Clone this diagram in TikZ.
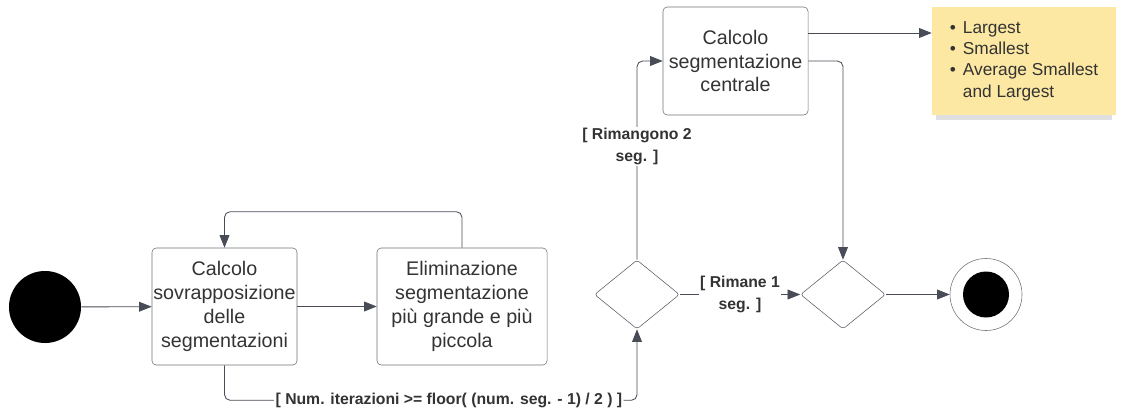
\documentclass[tikz,border=0pt]{standalone}
\usepackage{fontspec}
\setmainfont{Liberation Sans}
\usetikzlibrary{shapes.geometric,arrows.meta,calc,shadows}
\definecolor{linec}{RGB}{72,76,86}
\definecolor{txtc}{RGB}{51,51,51}
\definecolor{notec}{RGB}{252,232,162}
\begin{document}
\begin{tikzpicture}[x=0.025cm,y=-0.025cm,
  act/.style={draw=linec!80, rounded corners=3pt, align=center, text=txtc, inner sep=0pt,
    font=\fontsize{14}{17}\selectfont},
  dec/.style={diamond, draw=linec!90, rounded corners=2pt, minimum width=2.125cm,
    minimum height=1.725cm, inner sep=0pt, aspect=1.23},
  flow/.style={draw=linec, line width=0.6pt, -{Triangle[length=9pt,width=7pt]}},
  guard/.style={fill=white, align=center, text=txtc, inner sep=1pt,
    font=\bfseries\fontsize{11.2}{15}\selectfont},
  memo/.style={fill=notec, minimum width=4.6cm, minimum height=2.7cm, text=txtc,
    font=\fontsize{12.3}{15.2}\selectfont,
    drop shadow={shadow xshift=0pt, shadow yshift=-5pt, shadow scale=0.96, opacity=0.25}}]
\useasboundingbox (0,0) rectangle (1122,408);
% nodes
\node[circle, fill=black, minimum size=1.8cm, inner sep=0pt] (init) at (45,307) {};
\node[act, minimum width=3.625cm, minimum height=2.925cm] (overlap) at (224.5,306.5) {Calcolo\\sovrapposizione\\delle\\segmentazioni};
\node[act, minimum width=4.25cm, minimum height=2.925cm] (prune) at (462,306.5) {Eliminazione\\segmentazione\\più grande e più\\piccola};
\node[dec] (check) at (637,294.5) {};
\node[act, minimum width=3.625cm, minimum height=2.7cm] (central) at (735.5,61) {Calcolo\\segmentazione\\centrale};
\node[dec] (merge) at (843,294.5) {};
\node[circle, draw=linec!80, minimum size=1.8cm, inner sep=0pt] (fin) at (986,294.5) {};
\node[circle, fill=black, minimum size=1.15cm, inner sep=0pt] (finDot) at (fin) {};
\node[memo] (note) at (1024,61) {\begin{tabular}{@{}l@{\hspace{5pt}}l@{}}
\textbullet & Largest\\
\textbullet & Smallest\\
\textbullet & Average Smallest\\
 & and Largest\end{tabular}};
% edges
\draw[flow] (init) -- (overlap);
\draw[flow] (overlap) -- (prune);
\draw[flow, rounded corners=4pt] (prune.north) -- ++(0,-36) -| (overlap.north);
\draw[flow, rounded corners=4pt] (overlap.south) -- ++(0,35) -| node[guard, pos=0.272] (gIter) {[ Num. iterazioni >= floor( (num. seg. - 1) / 2 ) ]} (check.south);
\draw[flow, rounded corners=4pt] (check.north) |- node[guard, pos=0.285] (gTwo) {[ Rimangono 2\\seg. ]} (central.west);
\draw[flow] (check.east) -- node[guard] (gOne) {[ Rimane 1\\seg. ]} (merge.west);
\coordinate (outTop) at ($(central.east)+(0,-28)$);
\draw[flow] (outTop) -- (outTop -| note.west);
\draw[flow, rounded corners=4pt] (central.east) -| (merge.north);
\draw[flow] (merge) -- (fin);
\end{tikzpicture}
\end{document}
